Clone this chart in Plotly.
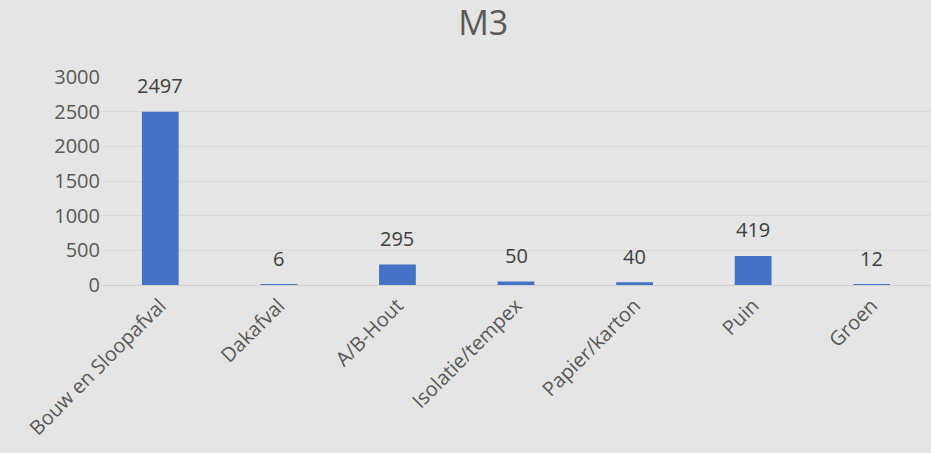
import plotly.graph_objects as go

categories = ["Bouw en Sloopafval", "Dakafval", "A/B-Hout", "Isolatie/tempex",
              "Papier/karton", "Puin", "Groen"]
values = [2497, 6, 295, 50, 40, 419, 12]
y_ticks = [0, 500, 1000, 1500, 2000, 2500, 3000]

bg = "#e4e5e4"
txt = "#595959"
font_family = "Open Sans"

fig = go.Figure(go.Bar(
    x=categories, y=values,
    marker=dict(color="#4472c4", line=dict(width=0)),
    hoverinfo="x+y",
))

for c, v in zip(categories, values):
    fig.add_annotation(x=c, y=v, text=str(v), showarrow=False,
                       yanchor="middle", yshift=26,
                       font=dict(size=20, color="#404040", family=font_family))

fig.update_layout(
    width=931, height=453,
    paper_bgcolor=bg, plot_bgcolor=bg,
    margin=dict(l=101, r=0, t=77, b=168),
    title=dict(text="M3", x=0.519, xanchor="center", y=0.95, yanchor="middle",
               font=dict(size=34, color=txt, family=font_family)),
    bargap=0.69,
    showlegend=False,
    font=dict(family=font_family, color=txt),
)
fig.update_xaxes(tickangle=-45, tickfont=dict(size=20, color=txt),
                 showgrid=False, showline=True, linecolor="#d0d0d0", linewidth=1,
                 ticks="")
fig.update_yaxes(range=[0, 3000], tickvals=y_ticks, tickfont=dict(size=20, color=txt),
                 showgrid=True, gridcolor="#d8d9d8", gridwidth=1, zeroline=False,
                 ticks="", ticklen=0, showline=False)

fig.write_html("out.html",
               config={"displayModeBar": False},
               post_script="document.body.style.margin='0';document.body.style.background='%s';" % bg)
